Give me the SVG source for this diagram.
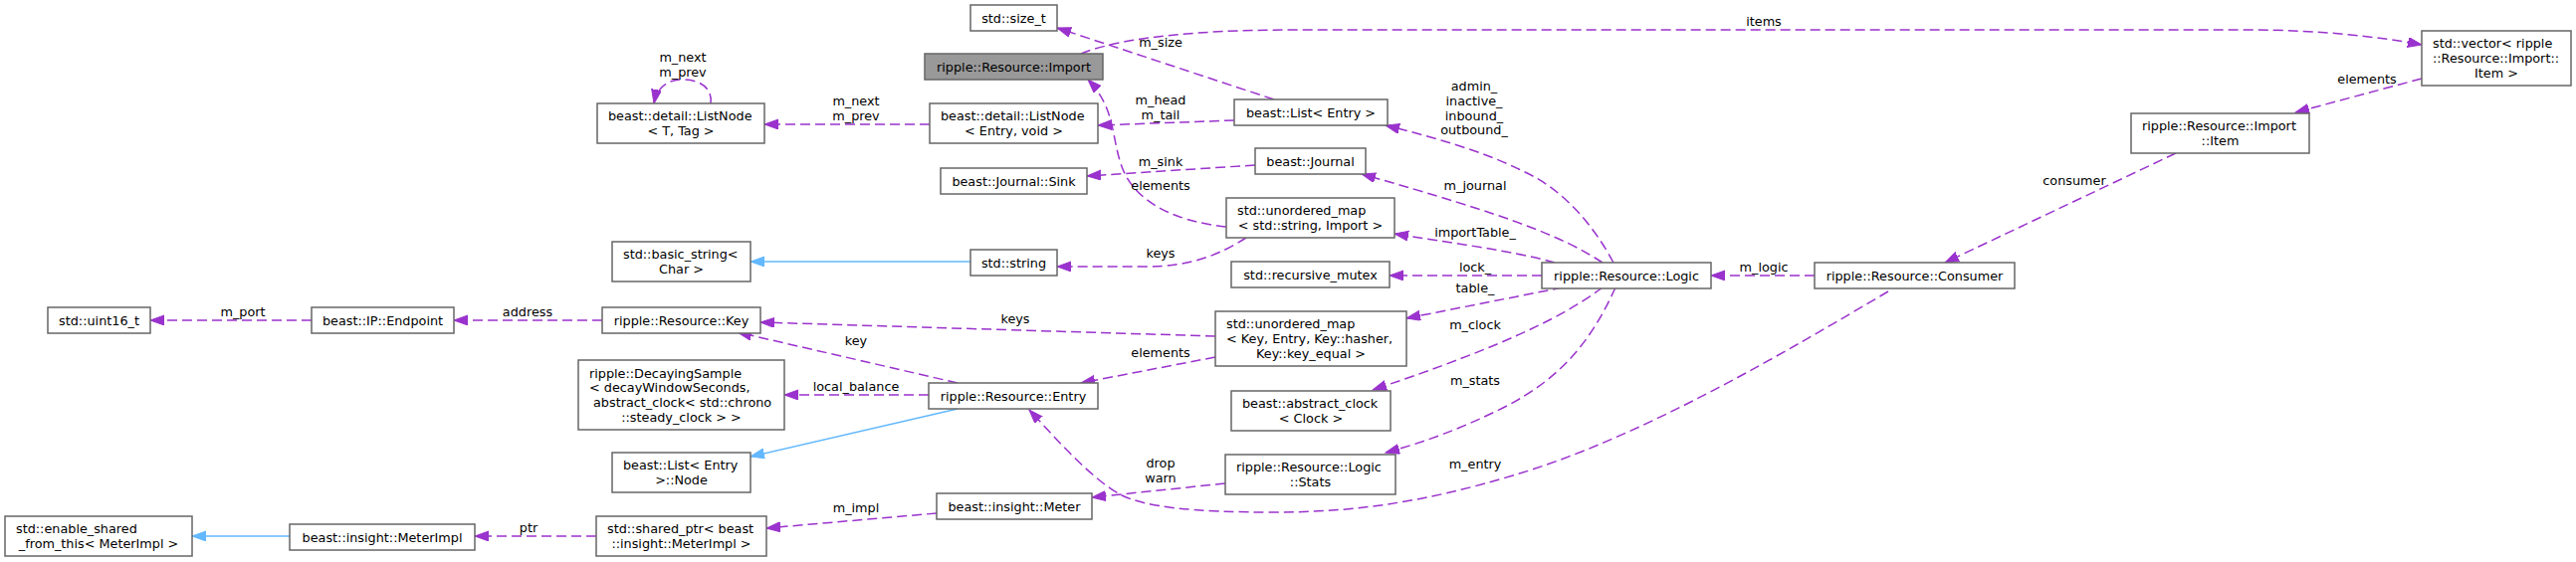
<svg xmlns="http://www.w3.org/2000/svg" width="2588" height="565" viewBox="0 0 2588 565">
<style>
text{font-family:"DejaVu Sans","Liberation Sans",sans-serif;font-size:12.8px;fill:#000}
.c{text-anchor:middle}
.n rect{fill:#fff;stroke:#666;stroke-width:1.5}
.n rect.main{fill:#999}
.e{fill:none;stroke:#9a32cd;stroke-width:1.5;stroke-dasharray:10,5;marker-end:url(#ap)}
.i{fill:none;stroke:#63b8ff;stroke-width:1.5;marker-end:url(#ab)}
</style>
<defs>
<marker id="ap" markerUnits="userSpaceOnUse" markerWidth="16" markerHeight="12" refX="14" refY="5" orient="auto"><path d="M0,0 L14,5 L0,10 Z" fill="#9a32cd" stroke="#9a32cd" stroke-width="1"/></marker>
<marker id="ab" markerUnits="userSpaceOnUse" markerWidth="16" markerHeight="12" refX="14" refY="5" orient="auto"><path d="M0,0 L14,5 L0,10 Z" fill="#63b8ff" stroke="#63b8ff" stroke-width="1"/></marker>
</defs>
<rect width="2588" height="565" fill="#fff"/>
<g id="edges">
<path class="e" d="M1086,54 C1120,40 1190,30 1300,30 L2260,30 C2330,30 2390,37 2433,45"/>
<path class="e" d="M1280,100 L1062,28"/>
<path class="e" d="M714,104 C716,90 705,80 686,80 C670,80 660,88 657,104"/>
<path class="e" d="M934,125 L768,125"/>
<path class="e" d="M1240,121 L1103,126"/>
<path class="e" d="M1261,166 L1092,177"/>
<path class="e" d="M1232,228 C1175,222 1140,200 1128,170 C1116,140 1122,110 1093,80"/>
<path class="i" d="M975,263 L754,263"/>
<path class="e" d="M1252,239 C1228,254 1200,268 1150,268 L1062,268"/>
<path class="e" d="M1621,264 C1600,225 1570,190 1530,172 C1490,152 1440,138 1392,126"/>
<path class="e" d="M1610,264 C1570,238 1520,218 1368,175"/>
<path class="e" d="M1562,264 C1520,252 1450,243 1401,235"/>
<path class="e" d="M1549,277 L1396,277"/>
<path class="e" d="M1823,277 L1719,277"/>
<path class="e" d="M1570,289 L1413,320"/>
<path class="e" d="M1610,289 C1575,315 1520,345 1379,392"/>
<path class="e" d="M1623,289 C1600,340 1570,380 1510,410 C1470,430 1430,445 1392,455"/>
<path class="e" d="M1897,293 C1800,350 1650,440 1520,478 C1430,505 1360,515 1280,515 C1200,515 1150,510 1125,497 C1095,480 1060,440 1034,412"/>
<path class="e" d="M2433,79 L2306,113"/>
<path class="e" d="M2186,154 L1954,264"/>
<path class="e" d="M1221,338 L764,324"/>
<path class="e" d="M962,385 L741,334"/>
<path class="e" d="M1221,359 L1086,385"/>
<path class="e" d="M933,397 L788,397"/>
<path class="i" d="M962,411 L754,459"/>
<path class="e" d="M1231,486 L1097,500"/>
<path class="e" d="M941,516 L770,531"/>
<path class="e" d="M599,539 L477,539"/>
<path class="i" d="M291,539 L193,539"/>
<path class="e" d="M313,322 L151,322"/>
<path class="e" d="M605,322 L456,322"/>
<g id="edge-labels">
<text class="c" x="1772" y="26">items</text>
<text class="c" x="1166" y="47">m_size</text>
<text class="c" x="686" y="62">m_next</text>
<text class="c" x="686" y="77">m_prev</text>
<text class="c" x="860" y="106">m_next</text>
<text class="c" x="860" y="121">m_prev</text>
<text class="c" x="1166" y="104.5">m_head</text>
<text class="c" x="1166" y="119.5">m_tail</text>
<text class="c" x="1166" y="167">m_sink</text>
<text class="c" x="1166" y="191">elements</text>
<text class="c" x="1166" y="258.5">keys</text>
<text class="c" x="1481" y="91">admin_</text>
<text class="c" x="1481" y="106">inactive_</text>
<text class="c" x="1481" y="121">inbound_</text>
<text class="c" x="1481" y="135">outbound_</text>
<text class="c" x="1482" y="191">m_journal</text>
<text class="c" x="1482" y="238">importTable_</text>
<text class="c" x="1482" y="273">lock_</text>
<text class="c" x="1482" y="294">table_</text>
<text class="c" x="1482" y="331">m_clock</text>
<text class="c" x="1482" y="387">m_stats</text>
<text class="c" x="1482" y="471">m_entry</text>
<text class="c" x="1772" y="273">m_logic</text>
<text class="c" x="1020" y="325">keys</text>
<text class="c" x="860" y="347">key</text>
<text class="c" x="860" y="393">local_balance</text>
<text class="c" x="1166" y="359">elements</text>
<text class="c" x="1166" y="470">drop</text>
<text class="c" x="1166" y="485">warn</text>
<text class="c" x="860" y="514.5">m_impl</text>
<text class="c" x="244" y="318">m_port</text>
<text class="c" x="530" y="318">address</text>
<text class="c" x="531" y="535">ptr</text>
<text class="c" x="2378" y="83.5">elements</text>
<text class="c" x="2084" y="185.5">consumer</text>
</g>
</g>
<g id="n_size_t" class="n"><rect x="975" y="5" width="87" height="26"/><text class="c" x="1018.5" y="22.5">std::size_t</text></g>
<g id="n_import" class="n"><rect class="main" x="929" y="54" width="179" height="26"/><text class="c" x="1018.5" y="71.5">ripple::Resource::Import</text></g>
<g id="n_listnode_t" class="n"><rect x="600" y="104" width="168" height="40"/><text x="611" y="121.2">beast::detail::ListNode</text><text class="c" x="684" y="135.9">&lt; T, Tag &gt;</text></g>
<g id="n_listnode_e" class="n"><rect x="934" y="104" width="169" height="40"/><text x="945" y="121.2">beast::detail::ListNode</text><text class="c" x="1018.5" y="135.9">&lt; Entry, void &gt;</text></g>
<g id="n_sink" class="n"><rect x="945" y="169" width="147" height="26"/><text class="c" x="1018.5" y="186.5">beast::Journal::Sink</text></g>
<g id="n_basic_string" class="n"><rect x="615" y="243" width="139" height="40"/><text x="626" y="260.2">std::basic_string&lt;</text><text class="c" x="684.5" y="274.9">Char &gt;</text></g>
<g id="n_string" class="n"><rect x="975" y="251" width="87" height="26"/><text class="c" x="1018.5" y="268.5">std::string</text></g>
<g id="n_list_entry" class="n"><rect x="1240" y="100" width="154" height="26"/><text class="c" x="1317" y="117.5">beast::List&lt; Entry &gt;</text></g>
<g id="n_journal" class="n"><rect x="1261" y="149" width="111" height="26"/><text class="c" x="1316.5" y="166.5">beast::Journal</text></g>
<g id="n_umap_si" class="n"><rect x="1232" y="199" width="169" height="40"/><text x="1243" y="216.2">std::unordered_map</text><text class="c" x="1316.5" y="230.9">&lt; std::string, Import &gt;</text></g>
<g id="n_rmutex" class="n"><rect x="1237" y="263" width="159" height="26"/><text class="c" x="1316.5" y="280.5">std::recursive_mutex</text></g>
<g id="n_umap_key" class="n"><rect x="1221" y="313" width="192" height="55"/><text x="1232" y="330.3">std::unordered_map</text><text x="1232" y="345">&lt; Key, Entry, Key::hasher,</text><text class="c" x="1317" y="359.7">Key::key_equal &gt;</text></g>
<g id="n_aclock" class="n"><rect x="1237" y="393" width="160" height="40"/><text x="1248" y="410.2">beast::abstract_clock</text><text class="c" x="1317" y="424.9">&lt; Clock &gt;</text></g>
<g id="n_stats" class="n"><rect x="1231" y="457" width="171" height="40"/><text x="1242" y="474.2">ripple::Resource::Logic</text><text class="c" x="1316.5" y="488.9">::Stats</text></g>
<g id="n_uint16" class="n"><rect x="48" y="309" width="103" height="26"/><text class="c" x="99.5" y="326.5">std::uint16_t</text></g>
<g id="n_endpoint" class="n"><rect x="313" y="309" width="143" height="26"/><text class="c" x="384.5" y="326.5">beast::IP::Endpoint</text></g>
<g id="n_key" class="n"><rect x="605" y="309" width="159" height="26"/><text class="c" x="684.5" y="326.5">ripple::Resource::Key</text></g>
<g id="n_decaying" class="n"><rect x="581" y="362" width="207" height="70"/><text x="592" y="379.5">ripple::DecayingSample</text><text x="592" y="394.2">&lt; decayWindowSeconds,</text><text x="596" y="408.9">abstract_clock&lt; std::chrono</text><text class="c" x="684.5" y="423.6">::steady_clock &gt; &gt;</text></g>
<g id="n_list_node" class="n"><rect x="615" y="455" width="139" height="40"/><text x="626" y="472.2">beast::List&lt; Entry</text><text class="c" x="684.5" y="486.9">&gt;::Node</text></g>
<g id="n_enable_shared" class="n"><rect x="5" y="519" width="188" height="40"/><text x="16" y="536.2">std::enable_shared</text><text class="c" x="99" y="550.9">_from_this&lt; MeterImpl &gt;</text></g>
<g id="n_meterimpl" class="n"><rect x="291" y="527" width="186" height="26"/><text class="c" x="384" y="544.5">beast::insight::MeterImpl</text></g>
<g id="n_shared_ptr" class="n"><rect x="599" y="519" width="171" height="40"/><text x="610" y="536.2">std::shared_ptr&lt; beast</text><text class="c" x="684.5" y="550.9">::insight::MeterImpl &gt;</text></g>
<g id="n_entry" class="n"><rect x="933" y="385" width="170" height="26"/><text class="c" x="1018" y="402.5">ripple::Resource::Entry</text></g>
<g id="n_meter" class="n"><rect x="941" y="496" width="156" height="26"/><text class="c" x="1019" y="513.5">beast::insight::Meter</text></g>
<g id="n_logic" class="n"><rect x="1549" y="264" width="170" height="26"/><text class="c" x="1634" y="281.5">ripple::Resource::Logic</text></g>
<g id="n_consumer" class="n"><rect x="1823" y="264" width="201" height="26"/><text class="c" x="1923.5" y="281.5">ripple::Resource::Consumer</text></g>
<g id="n_item" class="n"><rect x="2141" y="114" width="179" height="40"/><text x="2152" y="131.2">ripple::Resource::Import</text><text class="c" x="2230.5" y="145.9">::Item</text></g>
<g id="n_vector" class="n"><rect x="2433" y="31" width="150" height="55"/><text x="2444" y="48.3">std::vector&lt; ripple</text><text x="2444" y="63">::Resource::Import::</text><text class="c" x="2508" y="77.7">Item &gt;</text></g>
</svg>
